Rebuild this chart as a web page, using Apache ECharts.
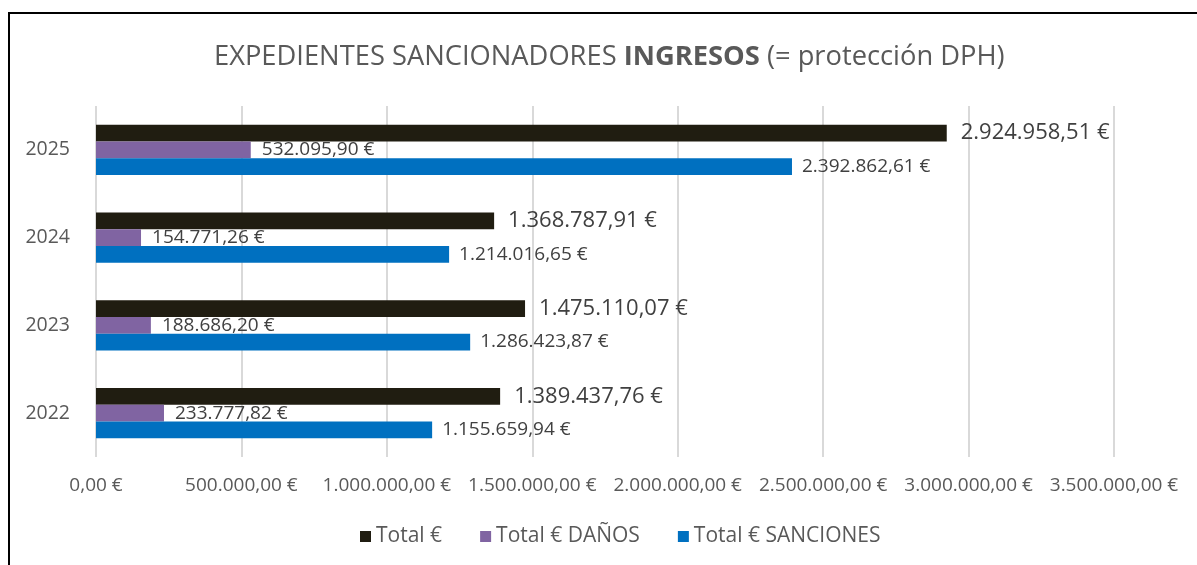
<!DOCTYPE html>
<html>
<head>
<meta charset="utf-8">
<script src="https://cdn.jsdelivr.net/npm/echarts@6/dist/echarts.min.js"></script>
<style>
  html, body { margin: 0; padding: 0; background: #fff; }
  #frame {
    position: absolute; left: 8px; top: 12px; width: 1200px; height: 570px;
    border-left: 2px solid #000; border-top: 2px solid #000;
    box-sizing: border-box;
  }
  #chart { position: absolute; left: 0; top: 0; width: 1197px; height: 565px; }
</style>
</head>
<body>
<div id="frame"></div>
<div id="chart"></div>
<script>
var years = ['2022', '2023', '2024', '2025'];
var totalValues = [1389437.76, 1475110.07, 1368787.91, 2924958.51];
var danosValues = [233777.82, 188686.20, 154771.26, 532095.90];
var sancionesValues = [1155659.94, 1286423.87, 1214016.65, 2392862.61];

var FONT = '"Open Sans", "Noto Sans", sans-serif';

function euro(v) {
    var parts = v.toFixed(2).split('.');
    var ent = parts[0].replace(/\B(?=(\d{3})+(?!\d))/g, '.');
    return ent + ',' + parts[1] + ' €';
}

var chart = echarts.init(document.getElementById('chart'));
chart.setOption({
    animation: false,
    title: {
        text: '{n|EXPEDIENTES SANCIONADORES }{b|INGRESOS}{n| (= protección DPH)}',
        left: 209,
        top: 39,
        textStyle: {
            fontWeight: 'normal',
            rich: {
                n: { fontFamily: FONT, fontSize: 27.3, color: '#595959', fontWeight: 'normal' },
                b: { fontFamily: FONT, fontSize: 27.3, color: '#595959', fontWeight: 'bold' }
            }
        }
    },
    legend: {
        bottom: 13,
        left: 355,
        itemWidth: 11,
        itemHeight: 11,
        itemGap: 38,
        icon: 'rect',
        data: ['Total €', 'Total € DAÑOS', 'Total € SANCIONES'],
        textStyle: { fontFamily: FONT, fontSize: 21, color: '#595959' }
    },
    grid: { left: 96, right: 83, top: 106, bottom: 108 },
    xAxis: {
        type: 'value',
        min: 0,
        max: 3500000,
        interval: 500000,
        axisLine: { show: false },
        axisTick: { show: false },
        splitLine: { lineStyle: { color: '#d9d9d9', width: 2 } },
        axisLabel: {
            margin: 19,
            fontFamily: FONT, fontSize: 19, color: '#595959',
            formatter: euro
        }
    },
    yAxis: {
        type: 'category',
        data: years,
        axisLine: { show: false },
        axisTick: { show: false },
        axisLabel: { margin: 26, fontFamily: FONT, fontSize: 19.5, color: '#595959', padding: [0, 0, 3, 0] }
    },
    series: [
        {
            name: 'Total €',
            type: 'bar',
            data: totalValues,
            barGap: '0%',
            barCategoryGap: '43%',
            itemStyle: { color: '#201d11' },
            label: {
                show: true, position: 'right', distance: 14,
                fontFamily: FONT, fontSize: 22, color: '#404040',
                formatter: function (p) { return euro(p.value); }
            }
        },
        {
            name: 'Total € DAÑOS',
            type: 'bar',
            data: danosValues,
            itemStyle: { color: '#8064a2' },
            label: {
                show: true, position: 'right', distance: 11,
                fontFamily: FONT, fontSize: 19, color: '#404040',
                formatter: function (p) { return euro(p.value); }
            }
        },
        {
            name: 'Total € SANCIONES',
            type: 'bar',
            data: sancionesValues,
            itemStyle: { color: '#0070c0' },
            label: {
                show: true, position: 'right', distance: 10,
                fontFamily: FONT, fontSize: 19, color: '#404040',
                formatter: function (p) { return euro(p.value); }
            }
        }
    ]
});
</script>
</body>
</html>
